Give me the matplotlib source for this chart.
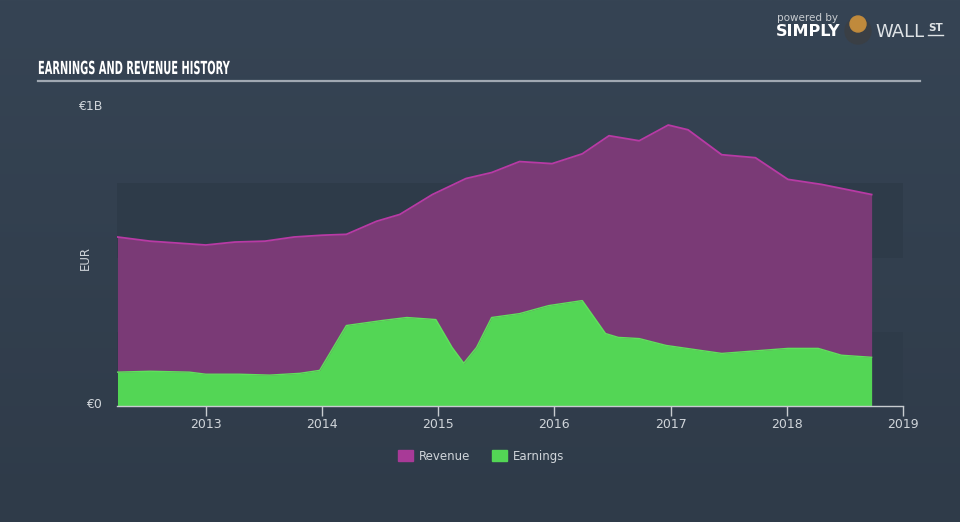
import numpy as np
from matplotlib import pyplot as plt
import matplotlib.patches as patches
from matplotlib.textpath import TextPath
from matplotlib.font_manager import FontProperties
from matplotlib.transforms import Affine2D, IdentityTransform

# revenue and earnings, EUR billions, by decimal year
rev_years = [2012.24, 2012.52, 2012.78, 2013.00, 2013.25, 2013.51, 2013.76, 2014.00, 2014.21,
             2014.47, 2014.67, 2014.95, 2015.24, 2015.46, 2015.70, 2015.98, 2016.24, 2016.47,
             2016.73, 2016.98, 2017.15, 2017.44, 2017.73, 2018.01, 2018.30, 2018.73]
revenue = [0.569, 0.555, 0.548, 0.542, 0.552, 0.555, 0.569, 0.575, 0.578,
           0.622, 0.645, 0.712, 0.766, 0.786, 0.823, 0.816, 0.849, 0.910,
           0.893, 0.946, 0.930, 0.846, 0.836, 0.763, 0.746, 0.712]

earn_years = [2012.24, 2012.52, 2012.86, 2013.00, 2013.29, 2013.55, 2013.81, 2013.98, 2014.21,
              2014.52, 2014.73, 2014.98, 2015.12, 2015.22, 2015.33, 2015.46, 2015.70, 2015.95,
              2016.24, 2016.44, 2016.55, 2016.73, 2016.96, 2017.44, 2018.01, 2018.27, 2018.47,
              2018.73]
earnings = [0.114, 0.117, 0.114, 0.107, 0.107, 0.104, 0.110, 0.120, 0.271,
            0.288, 0.298, 0.291, 0.197, 0.144, 0.197, 0.298, 0.311, 0.338,
            0.355, 0.244, 0.231, 0.227, 0.204, 0.177, 0.194, 0.194, 0.171,
            0.164]

tick_years = [2013, 2014, 2015, 2016, 2017, 2018, 2019]

REV_FILL, REV_LINE = '#7a3a76', '#b83aa5'
EARN_FILL, EARN_LINE = '#53d655', '#60e05c'
BAND = '#2e3b49'
TXT = '#d0d5da'
W, H = 960, 522

fig = plt.figure(figsize=(9.6, 5.22), dpi=100)

# background gradient
bg = fig.add_axes([0, 0, 1, 1], zorder=-10)
top = np.array([54, 68, 84]) / 255
bot = np.array([47, 59, 73]) / 255
grad = np.linspace(0, 1, 256)[:, None, None]
img = top * (1 - grad) + bot * grad
bg.imshow(np.repeat(img, 2, axis=1), aspect='auto', extent=[0, 1, 0, 1])
bg.axis('off')

# title, condensed by squeezing the text path (pixel coords, origin bottom-left)
tp = TextPath((0, 0), 'EARNINGS AND REVENUE HISTORY', size=18,
              prop=FontProperties(family='DejaVu Sans', weight='bold'))
tw = tp.get_extents().width
title_tr = Affine2D().scale(191 / tw, 1.0).translate(38, H - 74) + IdentityTransform()
fig.add_artist(patches.PathPatch(tp, transform=title_tr, color='white', lw=0))
fig.add_artist(plt.Line2D([38 / W, 920 / W], [1 - 81 / H, 1 - 81 / H],
                          color='#a0a8b2', lw=1.6))

# logo
fig.text(777 / W, 1 - 18 / H, 'powered by', color='#c8ccd0', fontsize=7.5, va='center')
fig.text(776 / W, 1 - 32 / H, 'SIMPLY', color='white', fontsize=11.5,
         fontweight='bold', va='center')
fig.text(875 / W, 1 - 32 / H, 'WALL', color='#dfe3e6', fontsize=13, va='center')
fig.text(928 / W, 1 - 28 / H, 'ST', color='#dfe3e6', fontsize=7.5,
         fontweight='bold', va='center')
fig.add_artist(plt.Line2D([928 / W, 943 / W], [1 - 35 / H, 1 - 35 / H],
                          color='#dfe3e6', lw=1))
fig.add_artist(patches.Ellipse((858 / W, 1 - 31 / H), 26 / W, 26 / H,
                               color='#3a3f45', transform=fig.transFigure))
fig.add_artist(patches.Ellipse((858 / W, 1 - 24 / H), 16 / W, 16 / H,
                               color='#c08a3c', transform=fig.transFigure))

# main axes
ax = fig.add_axes([117 / W, 1 - 406 / H, (903 - 117) / W, (406 - 109) / H])
ax.patch.set_alpha(0)
ax.set_xlim(2012.236, 2019.0)
ax.set_ylim(0, 1.0)
ax.axhspan(0, 0.25, color=BAND, lw=0, zorder=0)
ax.axhspan(0.5, 0.75, color=BAND, lw=0, zorder=0)

ax.fill_between(rev_years, 0, revenue, color=REV_FILL, lw=0, zorder=2)
ax.plot(rev_years, revenue, color=REV_LINE, lw=1.3, zorder=3)
ax.fill_between(earn_years, 0, earnings, color=EARN_FILL, lw=0, zorder=4)
ax.plot(earn_years, earnings, color=EARN_LINE, lw=1.0, zorder=5)

for s in ['top', 'right', 'left']:
    ax.spines[s].set_visible(False)
ax.spines['bottom'].set_color('#c8ccd0')
ax.spines['bottom'].set_linewidth(1)
ax.spines['bottom'].set_zorder(6)
ax.set_xticks(tick_years)
ax.set_xticklabels([str(y) for y in tick_years])
ax.tick_params(axis='x', direction='out', length=7, width=1, color='#c8ccd0',
               labelcolor=TXT, labelsize=9, pad=2)
ax.set_yticks([])

fig.text(102 / W, 1 - 107 / H, '€1B', color=TXT, fontsize=9, ha='right', va='center')
fig.text(102 / W, 1 - 405 / H, '€0', color=TXT, fontsize=9, ha='right', va='center')
fig.text(85 / W, 1 - 258 / H, 'EUR', color=TXT, fontsize=8.5, ha='center',
         va='center', rotation=90)

handles = [patches.Patch(color='#a83a97', label='Revenue'),
           patches.Patch(color=EARN_FILL, label='Earnings')]
fig.legend(handles=handles, loc='center', bbox_to_anchor=(481 / W, 1 - 456 / H),
           ncol=2, frameon=False, labelcolor=TXT, fontsize=8.5, handlelength=1.3,
           handleheight=1.0, columnspacing=1.8, handletextpad=0.5)

fig.savefig('out.png', dpi=100)
